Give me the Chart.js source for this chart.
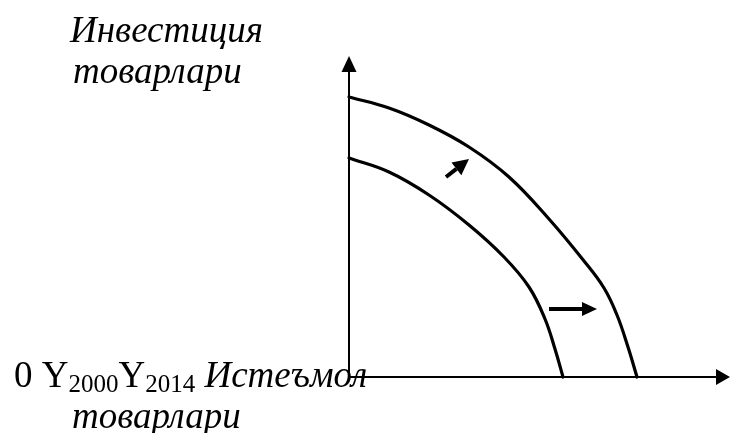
<!DOCTYPE html>
<html><head><meta charset="utf-8">
<script src="https://cdn.jsdelivr.net/npm/chart.js@4"></script>
<style>html,body{margin:0;padding:0;background:#fff;overflow:hidden}canvas{display:block}</style>
</head><body>
<canvas id="c" width="731" height="433"></canvas>
<script>
// Production possibilities frontiers (origin at the axes corner)
const outerX = [0, 40, 80, 120, 160, 200, 235, 255, 268, 279, 288];
const outerY = [280, 269, 252, 230, 200, 158, 116, 89, 62, 30, 0];
const innerX = [0, 40, 80, 120, 155, 180, 196, 206, 214];
const innerY = [219, 205, 182, 152, 120, 90, 58, 28, 0];
// axes extents
const axisXEnd = [0, 381];
const axisYEnd = [0, 321];
// shift arrows (tail -> tip)
const shiftUpX = [97, 120];
const shiftUpY = [200, 218];
const shiftRightX = [200, 248];
const shiftRightY = [68, 68];
// texts
const yTitle = ['Инвестиция', 'товарлари'];
const xTitle = ['Истеъмол', 'товарлари'];
const originLabel = '0';
const curveLetter = 'Y';
const curveYears = ['2000', '2014'];

const toPts = (xs, ys) => xs.map((x, i) => ({x: x, y: ys[i]}));

function arrowHead(ctx, x0, y0, x1, y1, len, half) {
  const a = Math.atan2(y1 - y0, x1 - x0);
  const bx = x1 - len * Math.cos(a), by = y1 - len * Math.sin(a);
  const nx = -Math.sin(a) * half, ny = Math.cos(a) * half;
  ctx.beginPath();
  ctx.moveTo(x1, y1);
  ctx.lineTo(bx + nx, by + ny);
  ctx.lineTo(bx - nx, by - ny);
  ctx.closePath();
  ctx.fill();
  return [bx, by];
}

function arrow(ctx, sx, sy, xs, ys, width, len, half) {
  const x0 = sx.getPixelForValue(xs[0]), y0 = sy.getPixelForValue(ys[0]);
  const x1 = sx.getPixelForValue(xs[1]), y1 = sy.getPixelForValue(ys[1]);
  const b = arrowHead(ctx, x0, y0, x1, y1, len, half);
  ctx.lineWidth = width;
  ctx.beginPath();
  ctx.moveTo(x0, y0);
  ctx.lineTo(b[0], b[1]);
  ctx.stroke();
}

const drawPlugin = {
  id: 'diagram',
  afterDatasetsDraw(chart) {
    const ctx = chart.ctx, sx = chart.scales.x, sy = chart.scales.y;
    ctx.save();
    ctx.fillStyle = '#000';
    ctx.strokeStyle = '#000';
    ctx.lineCap = 'butt';
    // texts
    ctx.textBaseline = 'alphabetic';
    ctx.textAlign = 'left';
    const ital = 'italic 37px "Liberation Serif"';
    ctx.font = ital;
    ctx.fillText(yTitle[0], 70, 42);
    ctx.fillText(yTitle[1], 73, 83);
    ctx.fillText(xTitle[1], 72, 428);
    let x = 14;
    const big = '37px "Liberation Serif"', small = '25px "Liberation Serif"';
    ctx.font = big;
    ctx.fillText(originLabel + ' ', x, 387);
    x += ctx.measureText(originLabel + ' ').width;
    for (const yr of curveYears) {
      ctx.font = big;
      ctx.fillText(curveLetter, x, 387);
      x += ctx.measureText(curveLetter).width;
      ctx.font = small;
      ctx.fillText(yr, x, 392);
      x += ctx.measureText(yr).width;
    }
    ctx.font = ital;
    ctx.fillText(' ' + xTitle[0], x, 387);
    // axes with arrowheads
    arrow(ctx, sx, sy, axisXEnd, [0, 0], 2, 14, 8);
    arrow(ctx, sx, sy, [0, 0], axisYEnd, 2, 16, 7.5);
    // shift arrows
    arrow(ctx, sx, sy, shiftUpX, shiftUpY, 4, 16, 8);
    arrow(ctx, sx, sy, shiftRightX, shiftRightY, 4, 15, 7);
    ctx.restore();
  }
};

const lineStyle = {
  showLine: true, borderColor: '#000', borderWidth: 3.2, pointRadius: 0,
  pointHoverRadius: 0, fill: false, tension: 0.4, borderCapStyle: 'round', borderJoinStyle: 'round'
};

new Chart(document.getElementById('c'), {
  type: 'scatter',
  data: {
    datasets: [
      Object.assign({label: 'Y2000', data: toPts(innerX, innerY)}, lineStyle),
      Object.assign({label: 'Y2014', data: toPts(outerX, outerY)}, lineStyle)
    ]
  },
  options: {
    responsive: false,
    animation: false,
    events: [],
    layout: {padding: 0},
    plugins: {legend: {display: false}, tooltip: {enabled: false}, title: {display: false}},
    scales: {
      x: {type: 'linear', display: false, min: -349, max: 382},
      y: {type: 'linear', display: false, min: -56, max: 377}
    }
  },
  plugins: [drawPlugin]
});
</script>
</body></html>
